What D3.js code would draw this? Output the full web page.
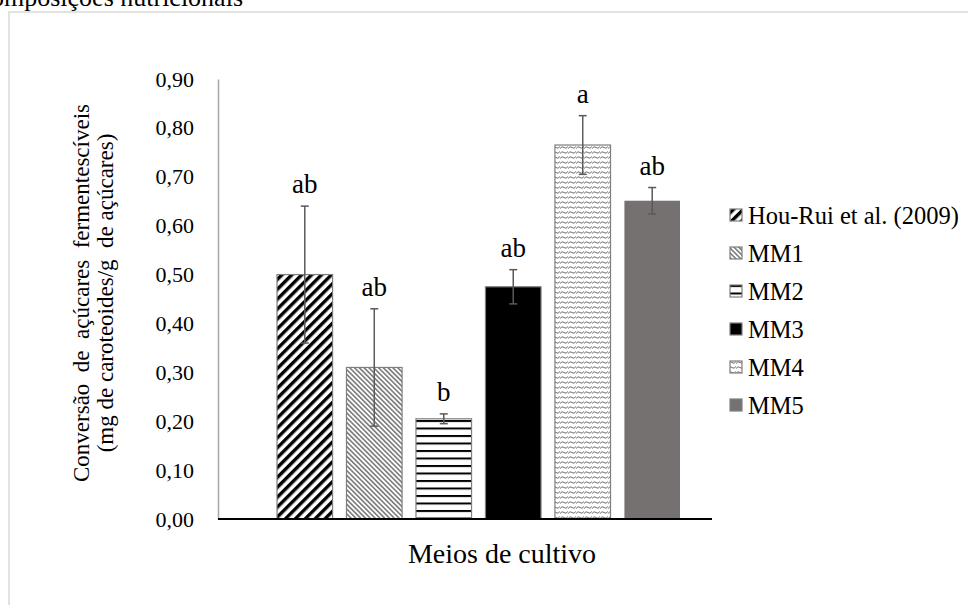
<!DOCTYPE html>
<html>
<head>
<meta charset="utf-8">
<script src="https://cdn.jsdelivr.net/npm/d3@7/dist/d3.min.js"></script>
<style>
  html, body { margin: 0; padding: 0; background: #fff; }
  svg { display: block; }
</style>
</head>
<body>
<svg id="chart" width="968" height="605"></svg>
<script>
// Culture media and carotenoid yield per gram of fermentable sugars
const series = ["Hou-Rui et al. (2009)", "MM1", "MM2", "MM3", "MM4", "MM5"];
const means = [0.50, 0.31, 0.205, 0.475, 0.765, 0.651];
const errors = [0.14, 0.12, 0.010, 0.035, 0.060, 0.027];
const letters = ["ab", "ab", "b", "ab", "a", "ab"];
const yTicks = [0, 0.1, 0.2, 0.3, 0.4, 0.5, 0.6, 0.7, 0.8, 0.9];
const fills = ["url(#wideUp)", "url(#narrowDown)", "url(#horiz)", "#000000", "url(#wave)", "#767171"];

const SERIF = "'Liberation Serif', 'Times New Roman', serif";

const svg = d3.select("#chart");
const defs = svg.append("defs");

// Hatch patterns
const p1 = defs.append("pattern").attr("id", "wideUp").attr("patternUnits", "userSpaceOnUse")
  .attr("width", 7).attr("height", 7).attr("patternTransform", "rotate(45)");
p1.append("rect").attr("width", 7).attr("height", 7).attr("fill", "#fff");
p1.append("rect").attr("width", 3.4).attr("height", 7).attr("fill", "#000");

const p2 = defs.append("pattern").attr("id", "narrowDown").attr("patternUnits", "userSpaceOnUse")
  .attr("width", 3.4).attr("height", 3.4).attr("patternTransform", "rotate(-45)");
p2.append("rect").attr("width", 3.4).attr("height", 3.4).attr("fill", "#fff");
p2.append("rect").attr("width", 1.6).attr("height", 3.4).attr("fill", "#7a7a7a");

const p3 = defs.append("pattern").attr("id", "horiz").attr("patternUnits", "userSpaceOnUse")
  .attr("width", 8).attr("height", 7.5);
p3.append("rect").attr("width", 8).attr("height", 7.5).attr("fill", "#fff");
p3.append("rect").attr("y", 0).attr("width", 8).attr("height", 2).attr("fill", "#000");

const p5 = defs.append("pattern").attr("id", "wave").attr("patternUnits", "userSpaceOnUse")
  .attr("width", 8).attr("height", 5);
p5.append("rect").attr("width", 8).attr("height", 5).attr("fill", "#fff");
p5.append("path").attr("d", "M0,3.5 Q2,0.5 4,2.5 T8,1.5").attr("fill", "none")
  .attr("stroke", "#6f6f6f").attr("stroke-width", 1);

// Outer frame
svg.append("rect").attr("x", 9).attr("y", 12).attr("width", 970).attr("height", 610)
  .attr("fill", "none").attr("stroke", "#d9d9d9").attr("stroke-width", 1.5);

// Heading running above the frame
svg.append("text").attr("x", 243).attr("y", 6).attr("text-anchor", "end")
  .style("font-family", SERIF).attr("font-size", 26).attr("fill", "#000")
  .text("Composições nutricionais");

const y = d3.scaleLinear().domain([0, 0.9]).range([519, 79]);
const x = d3.scaleBand().domain(series).range([277, 680]).paddingInner(0.2).paddingOuter(0);

const locale = d3.formatLocale({ decimal: ",", thousands: ".", grouping: [3], currency: ["R$", ""] });
const fmt = locale.format(".2f");

// Y axis
const yAxis = d3.axisLeft(y).tickValues(yTicks).tickFormat(fmt).tickSize(0).tickPadding(24);
const gy = svg.append("g").attr("transform", "translate(218,0)").call(yAxis);
gy.attr("font-family", null);
gy.select(".domain").attr("stroke", "#a6a6a6").attr("stroke-width", 1.5);
gy.selectAll(".tick text").style("font-family", SERIF).attr("font-size", 22).attr("fill", "#000");

// Bars
svg.append("g").selectAll("rect").data(series).join("rect")
  .attr("x", d => x(d))
  .attr("y", (d, i) => y(means[i]))
  .attr("width", x.bandwidth())
  .attr("height", (d, i) => y(0) - y(means[i]))
  .attr("fill", (d, i) => fills[i])
  .attr("stroke", (d, i) => i === 5 ? "none" : "#7f7f7f")
  .attr("stroke-width", 1.2);

// Error bars
const eb = svg.append("g").attr("stroke", "#5a5a5a").attr("stroke-width", 1.5);
series.forEach((s, i) => {
  const cx = x(s) + x.bandwidth() / 2;
  const top = y(means[i] + errors[i]), bot = y(means[i] - errors[i]);
  eb.append("line").attr("x1", cx).attr("x2", cx).attr("y1", top).attr("y2", bot);
  eb.append("line").attr("x1", cx - 4).attr("x2", cx + 4).attr("y1", top).attr("y2", top);
  eb.append("line").attr("x1", cx - 4).attr("x2", cx + 4).attr("y1", bot).attr("y2", bot);
});

// Significance letters
svg.append("g").selectAll("text").data(series).join("text")
  .attr("x", d => x(d) + x.bandwidth() / 2)
  .attr("y", (d, i) => y(means[i] + errors[i]) - 13)
  .attr("text-anchor", "middle")
  .style("font-family", SERIF)
  .attr("font-size", 27)
  .text((d, i) => letters[i]);

// X axis line
svg.append("line").attr("x1", 218).attr("x2", 712).attr("y1", y(0)).attr("y2", y(0))
  .attr("stroke", "#000").attr("stroke-width", 2);

// Axis titles
svg.append("text").attr("x", 502).attr("y", 563).attr("text-anchor", "middle")
  .style("font-family", SERIF).attr("font-size", 28).text("Meios de cultivo");

const yt = svg.append("text").attr("transform", "translate(89,293) rotate(-90)")
  .attr("text-anchor", "middle").style("font-family", SERIF).attr("font-size", 23)
  .style("white-space", "pre");
yt.append("tspan").attr("x", 0).attr("y", 0).text("Conversão  de  açúcares  fermentescíveis");
yt.append("tspan").attr("x", 0).attr("y", 24).text("(mg de caroteoides/g  de açúcares)");

// Legend
const lg = svg.append("g");
series.forEach((s, i) => {
  const ly = 215 + i * 38;
  lg.append("rect").attr("x", 730).attr("y", ly - 6).attr("width", 12).attr("height", 12)
    .attr("fill", fills[i]).attr("stroke", "#7f7f7f").attr("stroke-width", 1.2);
  lg.append("text").attr("x", 748).attr("y", ly).attr("dy", "0.35em")
    .style("font-family", SERIF).attr("font-size", 24.5).text(s);
});
</script>
</body>
</html>
